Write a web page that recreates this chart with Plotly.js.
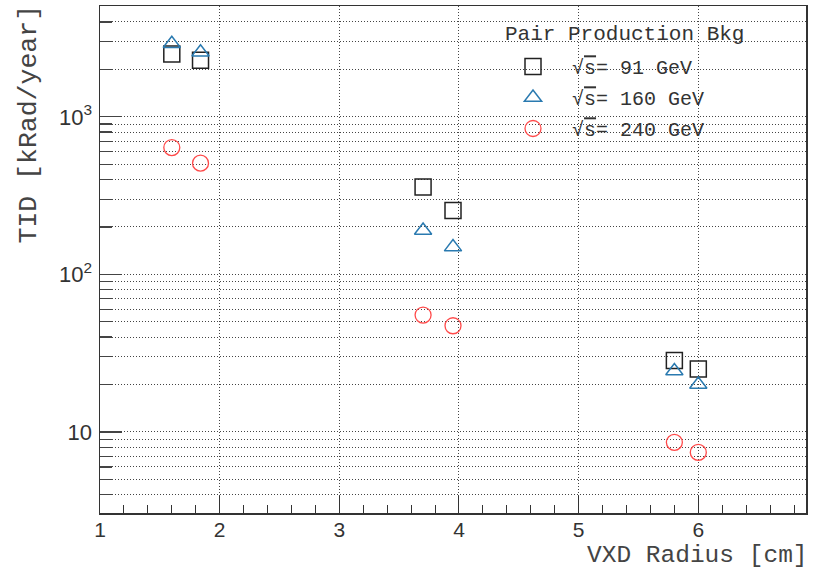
<!DOCTYPE html>
<html>
<head>
<meta charset="utf-8">
<script src="https://cdn.plot.ly/plotly-3.0.1.min.js"></script>
<style>html,body{margin:0;padding:0;background:#fff;}#chart{width:821px;height:569px;}</style>
</head>
<body>
<div id="chart"></div>
<script>
// ---- data ----
const xRadius = [1.6, 1.84, 3.7, 3.95, 5.8, 6.0];           // VXD radius [cm]
const tid91  = [2506, 2285, 358, 254, 28.4, 25.1];          // sqrt(s) = 91 GeV
const tid160 = [2912, 2570, 190, 149, 24.4, 20.0];          // sqrt(s) = 160 GeV
const tid240 = [638, 508, 55.2, 47.2, 8.59, 7.42];          // sqrt(s) = 240 GeV
const seriesNames = [
  "√<span style='text-decoration:overline'>s</span>= 91 GeV",
  "√<span style='text-decoration:overline'>s</span>= 160 GeV",
  "√<span style='text-decoration:overline'>s</span>= 240 GeV"
];
const xTickVals = [1, 2, 3, 4, 5, 6];
const xTickText = ["1", "2", "3", "4", "5", "6"];
const yTickVals = [10, 100, 1000];
const yTickText = ["10", "10<sup>2</sup>", "10<sup>3</sup>"];
const legendTitle = "Pair Production Bkg";
const xTitle = "VXD Radius [cm]";
const yTitle = "TID [kRad/year]";

const yMinor = [];
[1, 10, 100, 1000].forEach(d => { for (let m = 2; m <= 9; m++) yMinor.push(m * d); });

const mono = "Liberation Mono, Courier New, monospace";
const sans = "Liberation Sans, Arial, sans-serif";
const W = 706, H = 507, L = 100, T = 6;
const px2x = p => (p - L) / W;
const px2y = p => 1 - (p - T) / H;

const traces = [
  {x: xRadius, y: tid91, name: seriesNames[0], legendgroup: "a", mode: "markers", type: "scatter",
   marker: {symbol: "square-open", size: 16, color: "#222", line: {width: 1.5}}},
  {x: xRadius, y: tid160, name: seriesNames[1], legendgroup: "b", mode: "markers", type: "scatter",
   marker: {symbol: "triangle-up-open", size: 15, color: "#2a7ab0", line: {width: 1.5}}},
  {x: xRadius, y: tid240, name: seriesNames[2], legendgroup: "c", mode: "markers", type: "scatter",
   marker: {symbol: "circle-open", size: 16, color: "#ff4a4a", line: {width: 1.3}}}
];

const gridDash = "1px,2px";

const layout = {
  width: 821, height: 569,
  margin: {l: 100, r: 15, t: 6, b: 56},
  paper_bgcolor: "#fff", plot_bgcolor: "#fff",
  showlegend: true,
  legend: {
    x: px2x(494), y: px2y(47), xanchor: "left", yanchor: "top",
    bgcolor: "rgba(0,0,0,0)", borderwidth: 0,
    font: {family: mono, size: 20, color: "#333"},
    tracegroupgap: 2, itemsizing: "trace", itemwidth: 68
  },
  shapes: [
    {type: "rect", xref: "paper", yref: "paper", x0: px2x(495), x1: px2x(787), y0: px2y(17), y1: px2y(143),
     fillcolor: "#fff", line: {width: 0}, layer: "between"}
  ],
  xaxis: {
    range: [1, 6.9], tickmode: "array", tickvals: xTickVals, ticktext: xTickText,
    ticks: "inside", ticklen: 17, tickwidth: 1, tickcolor: "#333",
    showline: true, mirror: true, linecolor: "#333", linewidth: 1.5,
    showgrid: true, gridcolor: "#444", griddash: gridDash, gridwidth: 1,
    zeroline: false, ticklabelstandoff: -3,
    tickfont: {family: sans, size: 21, color: "#333"},
    minor: {dtick: 0.2, tick0: 1, ticks: "inside", ticklen: 8, tickcolor: "#333", showgrid: false}
  },
  yaxis: {
    type: "log", range: [Math.log10(3.06), Math.log10(5050)],
    tickmode: "array", tickvals: yTickVals, ticktext: yTickText,
    ticks: "inside", ticklen: 22, tickwidth: 1.3, tickcolor: "#444",
    showline: true, mirror: true, linecolor: "#333", linewidth: 1.5,
    showgrid: true, gridcolor: "#444", griddash: gridDash, gridwidth: 1,
    zeroline: false, ticklabelstandoff: 2,
    tickfont: {family: sans, size: 22, color: "#333"},
    minor: {tickmode: "array", tickvals: yMinor, ticks: "inside", ticklen: 12, tickwidth: 1.3, tickcolor: "#444",
            showgrid: true, gridcolor: "#444", griddash: gridDash, gridwidth: 1}
  },
  annotations: [
    {text: yTitle, xref: "paper", yref: "paper", x: px2x(29), y: px2y(3),
     xanchor: "center", yanchor: "top", textangle: -90, showarrow: false,
     font: {family: mono, size: 26.5, color: "#444"}},
    {text: xTitle, xref: "paper", yref: "paper", x: px2x(810), y: px2y(555),
     xanchor: "right", yanchor: "middle", showarrow: false,
     font: {family: mono, size: 24.5, color: "#444"}},
    {text: legendTitle, xref: "paper", yref: "paper", x: px2x(503), y: px2y(35),
     xanchor: "left", yanchor: "middle", showarrow: false,
     font: {family: mono, size: 21, color: "#333"}}
  ]
};

Plotly.newPlot("chart", traces, layout, {displayModeBar: false, staticPlot: true});
</script>
</body>
</html>
